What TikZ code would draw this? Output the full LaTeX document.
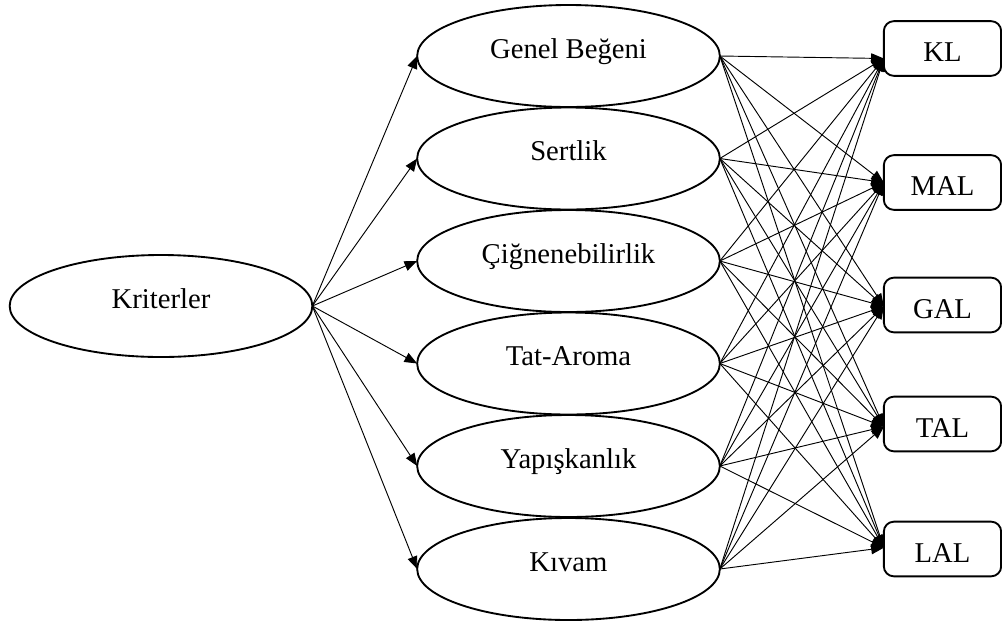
\documentclass[tikz,border=0pt]{standalone}
\usepackage{fontspec}
\setmainfont{Liberation Serif}
\usetikzlibrary{arrows.meta,shapes.geometric}
\begin{document}
\begin{tikzpicture}[x=0.75pt,y=-0.75pt,
  lbl/.style={font=\fontsize{21.5}{25}\selectfont},
  crit/.style={ellipse,draw,line width=1.4pt,minimum width=227pt,minimum height=76.5pt,
    inner sep=0pt,outer sep=0pt,lbl,text height=9.5pt,text depth=6pt},
  alt/.style={draw,line width=1.4pt,rounded corners=7.5pt,minimum width=88pt,minimum height=41pt,
    inner sep=0pt,outer sep=0pt,lbl,text height=19.5pt,text depth=0pt},
  conn/.style={line width=0.7pt,-{Triangle[length=9.5pt,width=7.5pt]}}]
\useasboundingbox (0,0) rectangle (1002,622);
\node[crit] (kr) at (161,306) {Kriterler};
\node[crit] (gb) at (568.5,56) {Genel Beğeni};
\node[crit] (se) at (568.5,158.5) {Sertlik};
\node[crit] (ci) at (568.5,261) {Çiğnenebilirlik};
\node[crit] (ta) at (568.5,363.5) {Tat-Aroma};
\node[crit] (ya) at (568.5,466) {Yapışkanlık};
\node[crit] (ki) at (568.5,569) {Kıvam};
\node[alt] (KL) at (942.5,48.5) {KL};
\node[alt] (MAL) at (942.5,182.5) {MAL};
\node[alt] (GAL) at (942.5,305) {GAL};
\node[alt] (TAL) at (942.5,424) {TAL};
\node[alt] (LAL) at (942.5,549) {LAL};
\foreach \c in {gb,se,ci,ta,ya,ki}{
  \draw[conn] (kr.east) -- (\c.west);
  \foreach \a/\s in {KL/-7.5pt,MAL/0pt,GAL/-1pt,TAL/-2pt,LAL/1pt}{
    \draw[conn] (\c.east) -- ([yshift=\s]\a.west);
  }
}
\end{tikzpicture}
\end{document}
